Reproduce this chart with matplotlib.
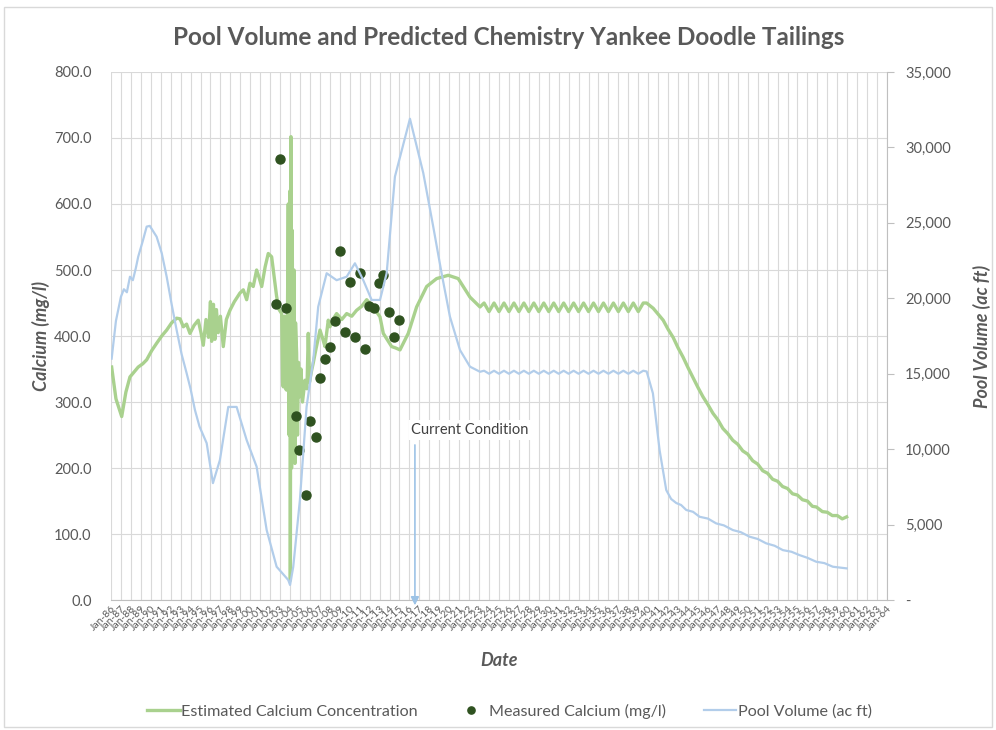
import matplotlib.pyplot as plt
from matplotlib.patches import Rectangle
from matplotlib.ticker import FuncFormatter, FixedLocator

plt.rcParams['font.family'] = ['Lato', 'DejaVu Sans']

# estimated calcium concentration (mg/l), decimal year
ca_years = [1986.07, 1986.5, 1987.08, 1987.5, 1987.91, 1988.3, 1988.74, 1989.2, 1989.59, 1990.1,
            1990.59, 1991.1, 1991.6, 1992.1, 1992.6, 1992.95, 1993.27, 1993.6, 1993.94, 1994.35,
            1994.77, 1995.05, 1995.28, 1995.55, 1995.8, 1996.0, 1996.12, 1996.3, 1996.45, 1996.6,
            1996.78, 1997.0, 1997.29, 1997.6, 1997.96, 1998.4, 1998.96, 1999.3, 1999.64, 1999.97,
            2000.3, 2000.64, 2000.9, 2001.15, 2001.5, 2001.81, 2002.15, 2002.4, 2002.65, 2002.9,
            2003.16, 2003.25, 2003.32, 2003.45, 2003.55, 2003.66, 2003.75, 2003.82, 2003.9, 2004.0,
            2004.03, 2004.09, 2004.15, 2004.22, 2004.3, 2004.4, 2004.49, 2004.55, 2004.66, 2004.75,
            2004.85, 2004.99, 2005.1, 2005.25, 2005.5, 2005.7, 2005.83, 2005.95, 2006.17, 2006.33,
            2006.6, 2007.01, 2007.3, 2007.51, 2007.84, 2008.01, 2008.3, 2008.68, 2009.2, 2009.69,
            2010.2, 2010.69, 2011.2, 2011.7, 2012.36, 2013.04, 2013.37, 2014.21, 2014.6, 2015.05,
            2015.88, 2016.72, 2017.73, 2018.73, 2019.9, 2020.9, 2022.08, 2023.09,
            2023.5, 2024.0, 2024.5, 2025.0, 2025.5, 2026.0, 2026.5, 2027.0, 2027.5, 2028.0,
            2028.5, 2029.0, 2029.5, 2030.0, 2030.5, 2031.0, 2031.5, 2032.0, 2032.5, 2033.0,
            2033.5, 2034.0, 2034.5, 2035.0, 2035.5, 2036.0, 2036.5, 2037.0, 2037.5, 2038.0,
            2038.5, 2039.0, 2039.5, 2039.84,
            2040.0, 2040.5, 2041.0, 2041.5, 2042.0, 2042.5, 2043.0, 2043.5, 2044.0, 2044.5,
            2045.0, 2045.5, 2046.0, 2046.5, 2047.0, 2047.5, 2048.0, 2048.5, 2049.0, 2049.5,
            2050.0, 2050.5, 2051.0, 2051.5, 2052.0, 2052.5, 2053.0, 2053.5, 2054.0, 2054.5,
            2055.0, 2055.5, 2056.0, 2056.5, 2056.9, 2057.5, 2058.0, 2058.5, 2059.0, 2059.5, 2059.94]
ca_est = [353, 305, 278, 315, 338, 345, 353, 358, 364, 378,
          389, 400, 409, 420, 427, 426, 414, 418, 404, 416,
          424, 405, 386, 425, 398, 452, 392, 448, 395, 440,
          405, 430, 384, 425, 439, 452, 465, 470, 455, 480,
          475, 500, 488, 475, 505, 525, 520, 490, 460, 440,
          434, 330, 323, 430, 320, 318, 450, 600, 250, 620,
          30, 702, 200, 560, 220, 500, 207, 420, 374, 250,
          360, 308, 350, 300, 333, 320, 404, 330, 348, 359,
          380, 409, 395, 384, 424, 414, 425, 434, 425, 434,
          430, 439, 445, 455, 444, 429, 404, 384, 382, 379,
          404, 444, 475, 487, 492, 487, 459, 444,
          450, 437, 450, 437, 450, 437, 450, 437, 450, 437,
          450, 437, 450, 437, 450, 437, 450, 437, 450, 437,
          450, 437, 450, 437, 450, 437, 450, 437, 450, 437,
          450, 437, 450, 450,
          448, 442, 433, 424, 410, 398, 382, 368, 352, 337,
          322, 308, 296, 283, 273, 260, 252, 242, 236, 226,
          221, 211, 206, 196, 192, 183, 180, 172, 169, 161,
          159, 152, 150, 142, 141, 134, 133, 128, 128, 123, 126]

# measured calcium (mg/l)
meas_years = [2002.98, 2002.58, 2003.56, 2004.59, 2004.92, 2005.6, 2006.0, 2006.6, 2007.0, 2007.54,
              2008.01, 2008.51, 2009.02, 2009.52, 2010.02, 2010.55, 2011.03, 2011.53, 2011.96, 2012.43,
              2012.93, 2013.37, 2013.97, 2014.44, 2014.97]
meas_ca = [668, 448, 442, 279, 227, 159, 271, 247, 337, 365,
           384, 422, 529, 406, 482, 399, 496, 381, 446, 443,
           481, 492, 436, 398, 424]

# pool volume (ac ft)
vol_years = [1986.07, 1986.5, 1987.0, 1987.3, 1987.6, 1987.91, 1988.2, 1988.5, 1988.74, 1989.2,
             1989.59, 1989.9, 1990.59, 1991.1, 1991.6, 1992.1, 1992.6, 1993.1, 1993.6, 1994.0,
             1994.44, 1994.9, 1995.62, 1996.25, 1996.95, 1997.79, 1998.63, 1999.64, 2000.64, 2001.65,
             2002.65, 2003.82, 2004.0, 2004.32, 2004.99, 2005.66, 2006.33, 2006.83, 2007.68, 2008.68,
             2009.69, 2010.52, 2011.36, 2012.2, 2013.04, 2013.71, 2014.54, 2016.05, 2017.39, 2018.39,
             2019.23, 2020.07, 2021.08, 2022.08, 2023.09,
             2023.5, 2024.0, 2024.5, 2025.0, 2025.5, 2026.0, 2026.5, 2027.0, 2027.5, 2028.0,
             2028.5, 2029.0, 2029.5, 2030.0, 2030.5, 2031.0, 2031.5, 2032.0, 2032.5, 2033.0,
             2033.5, 2034.0, 2034.5, 2035.0, 2035.5, 2036.0, 2036.5, 2037.0, 2037.5, 2038.0,
             2038.5, 2039.0, 2039.5, 2039.84,
             2040.47, 2041.14, 2041.81, 2042.3, 2042.82, 2043.3, 2043.82, 2044.5, 2045.16, 2046.0,
             2046.83, 2047.6, 2048.5, 2049.3, 2050.18, 2051.0, 2051.85, 2052.7, 2053.53, 2054.4,
             2055.2, 2056.0, 2056.88, 2057.7, 2058.55, 2059.3, 2059.94]
pool_vol = [16000, 18500, 20100, 20600, 20400, 21430, 21200, 22000, 22760, 23800,
            24750, 24800, 24080, 23000, 21430, 19600, 17900, 16300, 15050, 14000,
            12600, 11500, 10400, 7750, 9280, 12800, 12800, 10600, 8840, 4640,
            2210, 1330, 1000, 2200, 6630, 12800, 15900, 19440, 21660, 21200,
            21430, 22320, 21200, 19890, 19890, 21660, 28060, 31900, 28300, 24750,
            21660, 18780, 16570, 15470, 15130,
            15200, 15000, 15200, 15000, 15200, 15000, 15200, 15000, 15200, 15000,
            15200, 15000, 15200, 15000, 15200, 15000, 15200, 15000, 15200, 15000,
            15200, 15000, 15200, 15000, 15200, 15000, 15200, 15000, 15200, 15000,
            15200, 15000, 15200, 15150,
            13700, 9940, 7290, 6700, 6430, 6300, 5970, 5850, 5520, 5400,
            5080, 4950, 4640, 4500, 4200, 4050, 3760, 3600, 3310, 3200,
            2980, 2800, 2540, 2450, 2210, 2150, 2100]

tick_years = list(range(1986, 2065))
tick_labels = ['Jan-%02d' % (y % 100) for y in tick_years]

green = '#a9d18e'
dark_green = '#2f5220'
blue = '#b2cdea'
grey_txt = '#595959'
grid_c = '#d9d9d9'

fig = plt.figure(figsize=(9.96, 7.30), dpi=100)
ax = fig.add_axes([0.1114, 0.178, 0.7792, 0.7234])
ax2 = ax.twinx()

ax.plot(ca_years, ca_est, color=green, lw=2.4, label='Estimated Calcium Concentration')
ax.plot(meas_years, meas_ca, 'o', color=dark_green, ms=6.5, label='Measured Calcium (mg/l)')
ax2.plot(vol_years, pool_vol, color=blue, lw=1.6, label='Pool Volume (ac ft)')

ax.set_xlim(1986, 2064)
ax.set_ylim(0, 800)
ax2.set_ylim(0, 35000)

ax.xaxis.set_major_locator(FixedLocator(tick_years))
ax.set_xticklabels(tick_labels, rotation=45, ha='right', rotation_mode='anchor',
                   fontsize=7.5, color=grey_txt)
ax.set_yticks(range(0, 801, 100))
ax.yaxis.set_major_formatter(FuncFormatter(lambda v, p: '%.1f' % v))
ax2.set_yticks(range(0, 35001, 5000))
ax2.yaxis.set_major_formatter(FuncFormatter(lambda v, p: '-' if v == 0 else '{:,.0f}'.format(v)))

ax.grid(True, color=grid_c, lw=0.8)
ax.set_axisbelow(True)
ax.tick_params(axis='y', length=0, labelsize=10.5, labelcolor=grey_txt, pad=14)
ax.tick_params(axis='x', length=0, pad=3)
ax2.tick_params(axis='y', length=5, color='#bfbfbf', labelsize=10.5, labelcolor=grey_txt, pad=8)

for s in ['top', 'left']:
    ax.spines[s].set_visible(False)
    ax2.spines[s].set_visible(False)
ax.spines['right'].set_visible(False)
ax2.spines['right'].set_color('#bfbfbf')
ax2.spines['bottom'].set_visible(False)
ax.spines['bottom'].set_color('#bfbfbf')

ax.set_xlabel('Date', fontsize=13, fontweight='bold', style='italic', color=grey_txt, labelpad=14)
ax.set_ylabel('Calcium (mg/l)', fontsize=13, fontweight='bold', style='italic', color=grey_txt, labelpad=3)
ax2.set_ylabel('Pool Volume (ac ft)', fontsize=13, fontweight='bold', style='italic', color=grey_txt,
               rotation=90, labelpad=16)

fig.text(0.511, 0.948, 'Pool Volume and Predicted Chemistry Yankee Doodle Tailings',
         ha='center', va='center', fontsize=17.5, fontweight='bold', color=grey_txt)

# current condition marker
ax.annotate('', xy=(2016.55, -8), xytext=(2016.55, 235),
            arrowprops=dict(arrowstyle='-|>', color='#9dc3e6', lw=1.2,
                            mutation_scale=12, shrinkA=0, shrinkB=0),
            annotation_clip=False)
ax.text(2016.2, 258, 'Current Condition', fontsize=10.5, color='#404040', va='center', ha='left',
        bbox=dict(facecolor='white', edgecolor='none', pad=2))

h1, l1 = ax.get_legend_handles_labels()
h2, l2 = ax2.get_legend_handles_labels()
fig.legend(h1 + h2, l1 + l2, loc='center', bbox_to_anchor=(0.5115, 0.026), ncol=3, frameon=False,
           fontsize=11.6, labelcolor=grey_txt, handlelength=2.0, columnspacing=2.33,
           handletextpad=0.1, markerscale=0.8)

fig.patches.append(Rectangle((0.004, 0.004), 0.992, 0.986, transform=fig.transFigure,
                             fill=False, edgecolor='#d9d9d9', lw=1))

fig.savefig('out.png', dpi=100)
